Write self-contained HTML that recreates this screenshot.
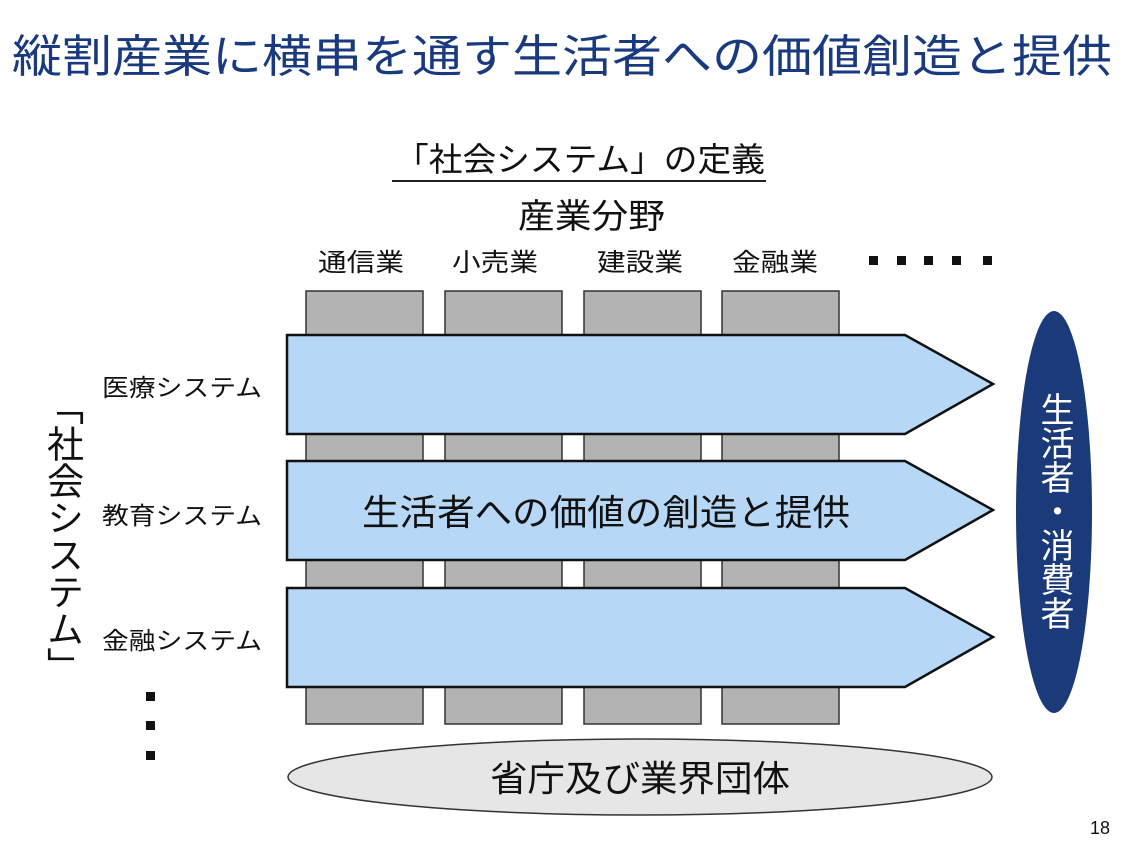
<!DOCTYPE html>
<html><head><meta charset="utf-8"><style>
body{margin:0;background:#fff;}
svg{display:block;font-family:"Liberation Sans","Noto Sans CJK JP",sans-serif;}
</style></head><body>
<svg width="1139" height="855" viewBox="0 0 1139 855">
<text x="12" y="72" font-size="45" fill="#1a3a80" textLength="1100" lengthAdjust="spacingAndGlyphs">縦割産業に横串を通す生活者への価値創造と提供</text>
<text x="395" y="171" font-size="33" fill="#111" textLength="370" lengthAdjust="spacingAndGlyphs">「社会システム」の定義</text>
<line x1="392" y1="181" x2="766" y2="181" stroke="#222" stroke-width="2"/>
<text x="518" y="228" font-size="34" fill="#111" textLength="147" lengthAdjust="spacingAndGlyphs">産業分野</text>
<g font-size="25" fill="#111">
<text x="318" y="271" textLength="86" lengthAdjust="spacingAndGlyphs">通信業</text><text x="452" y="271" textLength="86" lengthAdjust="spacingAndGlyphs">小売業</text><text x="597" y="271" textLength="86" lengthAdjust="spacingAndGlyphs">建設業</text><text x="732" y="271" textLength="86" lengthAdjust="spacingAndGlyphs">金融業</text>
</g>
<g fill="#111"><rect x="869" y="256" width="9" height="9"/><rect x="897" y="256" width="9" height="9"/><rect x="924" y="256" width="9" height="9"/><rect x="952" y="256" width="9" height="9"/><rect x="983" y="256" width="9" height="9"/>
<rect x="146" y="692" width="9" height="9"/><rect x="146" y="721" width="9" height="9"/><rect x="146" y="751" width="9" height="9"/></g>
<g fill="#b3b3b3" stroke="#333" stroke-width="1.5">
<rect x="306" y="291" width="117" height="433"/><rect x="445" y="291" width="117" height="433"/><rect x="584" y="291" width="117" height="433"/><rect x="722" y="291" width="117" height="433"/>
</g>
<g fill="#b6d7f5" stroke="#111" stroke-width="2.5">
<polygon points="287,335 905,335 993,384 905,434 287,434"/>
<polygon points="287,461 905,461 993,510 905,560 287,560"/>
<polygon points="287,588 905,588 993,637 905,687 287,687"/>
</g>
<text x="362" y="525" font-size="36" fill="#111" textLength="488" lengthAdjust="spacingAndGlyphs">生活者への価値の創造と提供</text>
<g font-size="24" fill="#111">
<text x="102" y="396" textLength="160" lengthAdjust="spacingAndGlyphs">医療システム</text><text x="102" y="524" textLength="160" lengthAdjust="spacingAndGlyphs">教育システム</text><text x="102" y="649" textLength="160" lengthAdjust="spacingAndGlyphs">金融システム</text>
</g>
<text x="62" y="388" font-size="37" fill="#111" style="writing-mode:vertical-rl">「社会システム」</text>
<ellipse cx="1054" cy="512" rx="38" ry="201" fill="#1a3a7a"/>
<text x="1054" y="392" font-size="34" fill="#fff" style="writing-mode:vertical-rl">生活者・消費者</text>
<ellipse cx="640" cy="777" rx="352" ry="38" fill="#e6e6e6" stroke="#333" stroke-width="1.5"/>
<text x="490" y="791" font-size="36" fill="#111" textLength="300" lengthAdjust="spacingAndGlyphs">省庁及び業界団体</text>
<text x="1100" y="834" font-size="18" text-anchor="middle" fill="#111">18</text>
</svg>
</body></html>
